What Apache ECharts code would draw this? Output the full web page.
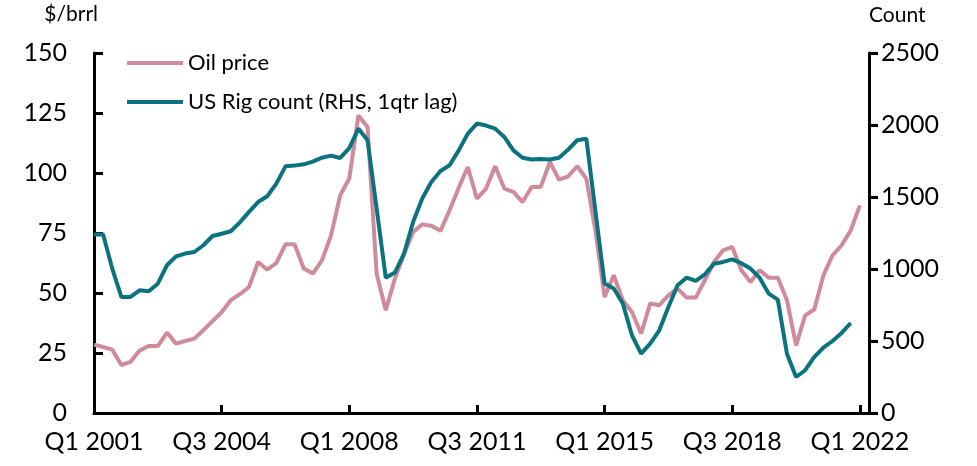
<!DOCTYPE html>
<html>
<head>
<meta charset="utf-8">
<script src="https://cdn.jsdelivr.net/npm/echarts@6/dist/echarts.min.js"></script>
<style>
  html, body { margin: 0; padding: 0; background: #ffffff; }
  #chart { width: 977px; height: 466px; }
</style>
</head>
<body>
<div id="chart"></div>
<script>
// quarters Q1 2001 .. Q2 2022 (last slot has no data, it only pads the axis end)
var quarters = [];
for (var y = 2001; y <= 2022; y++) {
  for (var q = 1; q <= 4; q++) {
    if (y === 2022 && q > 2) break;
    quarters.push("Q" + q + " " + y);
  }
}

// $/brrl
var oilPrice = [
  28.5, 27.5, 26.4, 20.0, 21.3, 26.0, 27.9, 27.9, 33.5, 28.9,
  30.0, 31.0, 34.5, 38.3, 42.0, 47.0, 49.5, 52.5, 62.9, 59.7,
  62.5, 70.3, 70.3, 60.2, 58.1, 63.6, 74.0, 90.7, 97.7, 124.0,
  119.2, 58.0, 42.8, 56.0, 66.0, 75.4, 78.6, 78.0, 75.9, 84.5,
  93.9, 102.5, 89.3, 93.5, 102.8, 93.5, 92.1, 87.9, 94.2, 94.2,
  104.6, 97.2, 98.6, 102.8, 97.6, 76.0, 48.3, 57.4, 47.0, 42.1,
  33.1, 45.6, 44.9, 49.0, 51.8, 48.1, 48.1, 55.3, 62.9, 67.8,
  69.2, 59.5, 54.6, 59.5, 56.4, 56.4, 47.0, 28.2, 40.7, 43.1,
  57.4, 65.7, 69.9, 76.1, 86.5
];

// US rig count, 1 quarter lag
var rigCount = [
  1240, 1240, 1003, 806, 806, 852, 845, 898, 1026, 1088,
  1107, 1118, 1165, 1229, 1245, 1262, 1324, 1397, 1465, 1505,
  1593, 1713, 1718, 1727, 1746, 1773, 1787, 1771, 1840, 1975,
  1894, 1420, 940, 975, 1107, 1326, 1489, 1604, 1681, 1720,
  1824, 1940, 2010, 1996, 1975, 1917, 1824, 1773, 1760, 1764,
  1760, 1773, 1829, 1894, 1905, 1400, 900, 864, 760, 540,
  412, 482, 574, 736, 887, 940, 917, 963, 1037, 1049,
  1067, 1040, 1003, 940, 829, 787, 412, 250, 297, 389,
  454, 500, 556, 625
];

var font = "Lato";
var every14 = function (i) { return i % 14 === 0; };

var chart = echarts.init(document.getElementById("chart"));
chart.setOption({
  animation: false,
  textStyle: { fontFamily: font, color: "#000" },
  grid: { left: 94, right: 108, top: 53, bottom: 53 },
  legend: {
    orient: "vertical",
    left: 122,
    top: 47,
    icon: "rect",
    itemWidth: 56,
    itemHeight: 4,
    itemGap: 17,
    textStyle: { fontFamily: font, fontSize: 22, color: "#000" },
    data: ["Oil price", "US Rig count (RHS, 1qtr lag)"]
  },
  xAxis: {
    type: "category",
    boundaryGap: false,
    data: quarters,
    axisLine: { lineStyle: { color: "#000", width: 3 } },
    axisTick: { inside: true, length: 8, interval: every14, lineStyle: { color: "#000", width: 3 } },
    axisLabel: { interval: every14, fontFamily: font, fontSize: 25, color: "#000", margin: 16 },
    splitLine: { show: false }
  },
  yAxis: [
    {
      type: "value",
      min: 0,
      max: 150,
      interval: 25,
      name: "$/brrl",
      nameLocation: "end",
      nameGap: 28,
      nameTextStyle: { fontFamily: font, fontSize: 21, color: "#000", align: "right", padding: [0, -4, 0, 0] },
      axisLine: { show: true, lineStyle: { color: "#000", width: 3 } },
      axisTick: { show: true, inside: true, length: 9, lineStyle: { color: "#000", width: 3 } },
      axisLabel: { fontFamily: font, fontSize: 25, color: "#000", margin: 27 },
      splitLine: { show: false }
    },
    {
      type: "value",
      min: 0,
      max: 2500,
      interval: 500,
      name: "Count",
      nameLocation: "end",
      nameGap: 27,
      nameTextStyle: { fontFamily: font, fontSize: 21, color: "#000", align: "left" },
      position: "right",
      axisLine: { show: true, lineStyle: { color: "#000", width: 3 } },
      axisTick: { show: true, inside: false, length: 9, lineStyle: { color: "#000", width: 3 } },
      axisLabel: { fontFamily: font, fontSize: 25, color: "#000", margin: 12, formatter: function (v) { return String(v); } },
      splitLine: { show: false }
    }
  ],
  series: [
    {
      name: "Oil price",
      type: "line",
      yAxisIndex: 0,
      symbol: "none",
      lineStyle: { color: "#CF8A9C", width: 4 },
      itemStyle: { color: "#CF8A9C" },
      data: oilPrice
    },
    {
      name: "US Rig count (RHS, 1qtr lag)",
      type: "line",
      yAxisIndex: 1,
      symbol: "none",
      lineStyle: { color: "#0B737F", width: 4 },
      itemStyle: { color: "#0B737F" },
      data: rigCount
    }
  ]
});
</script>
</body>
</html>
